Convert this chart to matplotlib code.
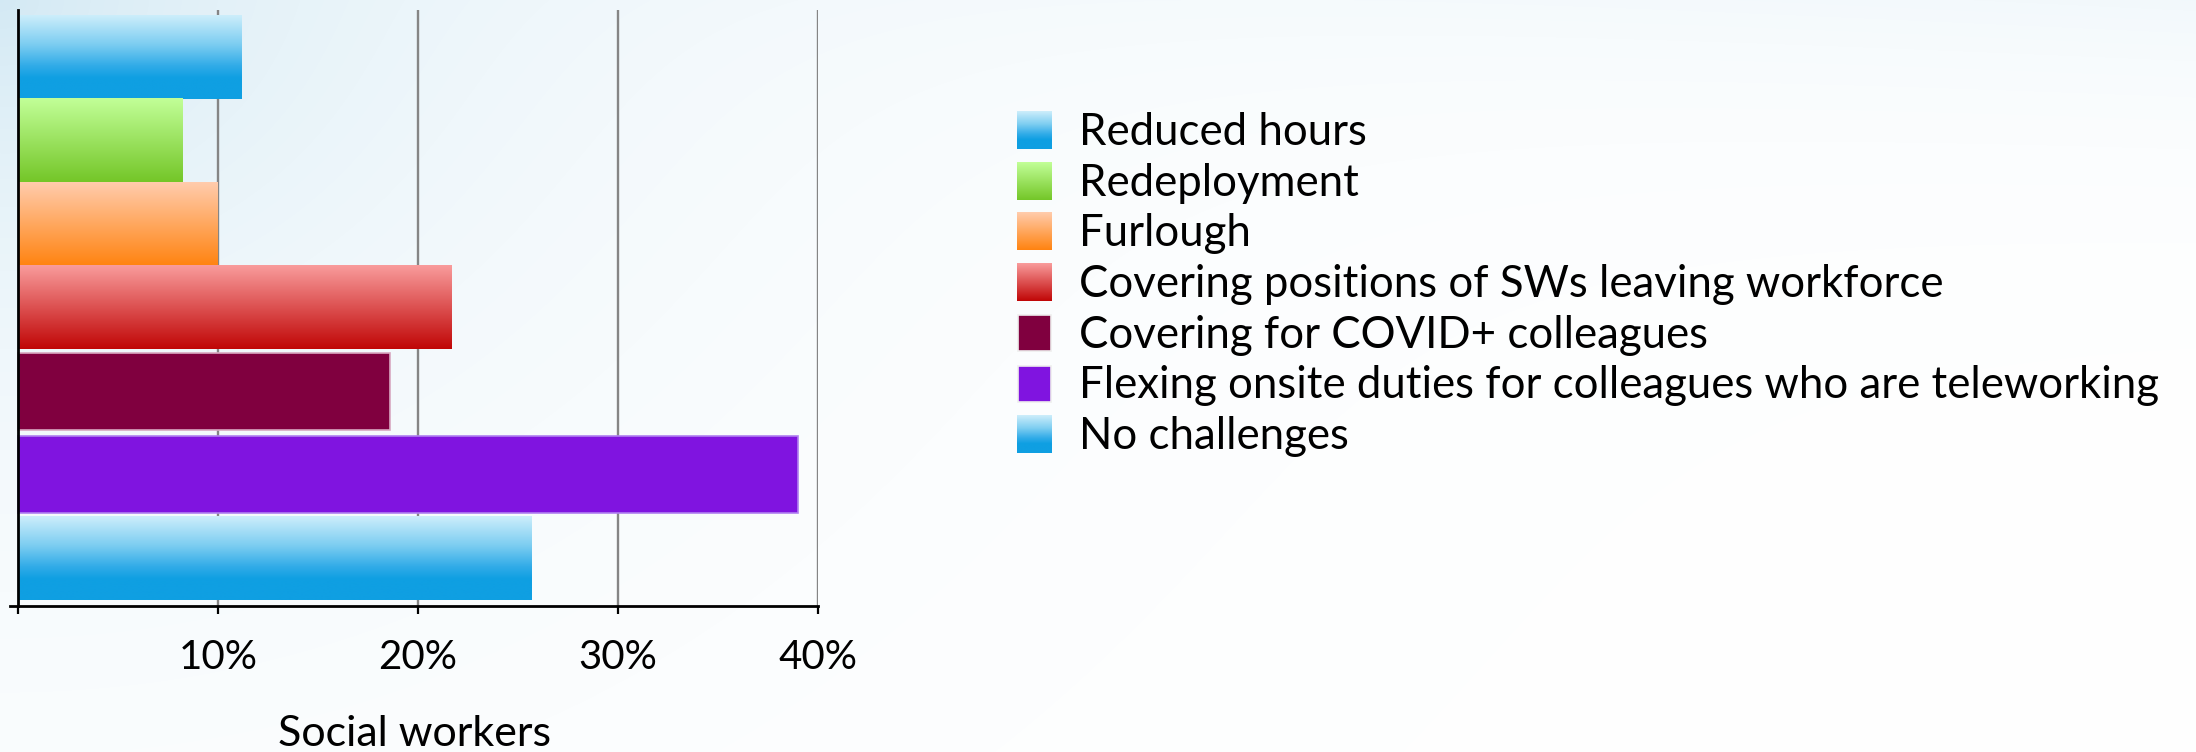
import numpy as np
import matplotlib
matplotlib.use('Agg')
import matplotlib.pyplot as plt
from matplotlib.colors import LinearSegmentedColormap

plt.rcParams['font.family'] = ['Lato', 'DejaVu Sans']

categories = ['Reduced hours', 'Redeployment', 'Furlough',
              'Covering positions of SWs leaving workforce',
              'Covering for COVID+ colleagues',
              'Flexing onsite duties for colleagues who are teleworking',
              'No challenges']
values = [11.2, 8.25, 10.0, 21.7, 18.6, 39.0, 25.7]
tick_vals = [0, 10, 20, 30, 40]
tick_labels = ['', '10%', '20%', '30%', '40%']

# gradient stops (top -> bottom) or a flat colour
blue = [(0, '#cdeefb'), (0.35, '#7ccdf1'), (0.6, '#32ace8'), (0.75, '#0f9fe2'), (1, '#0f9fe2')]
green = [(0, '#c2ff98'), (1, '#74c628')]
orange = [(0, '#ffccad'), (1, '#ff8310')]
red = [(0, '#f99c9c'), (1, '#c00606')]
styles = [blue, green, orange, red, '#80003f', '#8014e0', blue]
edges = [None, None, None, None, '#d8a8c0', '#b080f0', None]

W, H = 2196, 752
fig = plt.figure(figsize=(W / 100, H / 100), dpi=100)

# background wash
bg = fig.add_axes([0, 0, 1, 1], zorder=-5)
yy, xx = np.mgrid[0:H, 0:W]
t = 0.85 * np.exp(-np.hypot(xx / 900, yy / 700) * 2.0) + 0.25 * np.exp(-yy / 120) * (xx / W)
t = np.clip(t, 0, 1)[..., None]
tint = np.array([0.80, 0.90, 0.95])
img = (1 - t) * np.ones(3) + t * tint
bg.imshow(img, extent=(0, W, H, 0), aspect='auto')
bg.set_xlim(0, W)
bg.set_ylim(H, 0)
bg.axis('off')

ax = fig.add_axes([10 / W, (H - 606) / H, 808 / W, 596 / H])
ax.patch.set_alpha(0)
ypos = np.arange(len(values))
for i, (v, s) in enumerate(zip(values, styles)):
    if isinstance(s, str):
        ax.barh(ypos[i], v, height=0.92, color=s, edgecolor=edges[i], linewidth=1.2, zorder=3)
    else:
        b = ax.barh(ypos[i], v, height=1.0, color='none', zorder=3)[0]
        cm = LinearSegmentedColormap.from_list('g%d' % i, s)
        g = np.linspace(0, 1, 256).reshape(-1, 1)
        x0, y0 = b.get_x(), b.get_y()
        ax.imshow(g, cmap=cm, aspect='auto', origin='upper', zorder=3,
                  extent=(x0, x0 + b.get_width(), y0 + b.get_height(), y0))

ax.set_xlim(-0.4, 40)
ax.set_ylim(6.57, -0.56)
ax.set_xticks(tick_vals)
ax.set_xticklabels(tick_labels, fontsize=29)
ax.set_yticks([])
for xv in tick_vals[1:]:
    ax.axvline(xv, color='#858585', linewidth=1.7, zorder=1)
ax.spines['left'].set_position(('data', 0))
ax.spines['left'].set_linewidth(2)
ax.spines['bottom'].set_linewidth(2)
ax.spines['top'].set_visible(False)
ax.spines['right'].set_visible(False)
ax.spines['left'].set_zorder(5)
ax.tick_params(axis='x', length=6, width=1.6, pad=18, direction='out')
ax.set_xlabel('Social workers', fontsize=31, labelpad=28)

# legend drawn in pixel coordinates
lg = fig.add_axes([0, 0, 1, 1], zorder=2)
lg.set_xlim(0, W)
lg.set_ylim(H, 0)
lg.axis('off')
for i, (lab, s) in enumerate(zip(categories, styles)):
    cy = 130 + i * 50.7
    if isinstance(s, str):
        lg.add_patch(plt.Rectangle((1018, cy - 18), 33, 36, facecolor=s,
                                   edgecolor='#eeeeee', linewidth=1.2))
    else:
        cm = LinearSegmentedColormap.from_list('l%d' % i, s)
        g = np.linspace(0, 1, 256).reshape(-1, 1)
        lg.imshow(g, cmap=cm, aspect='auto', origin='upper',
                  extent=(1017, 1052, cy + 19, cy - 19))
    lg.text(1079, cy + 15, lab, fontsize=31.5, va='baseline', ha='left', color='black')
lg.set_xlim(0, W)
lg.set_ylim(H, 0)

fig.savefig('out.png', dpi=100)
